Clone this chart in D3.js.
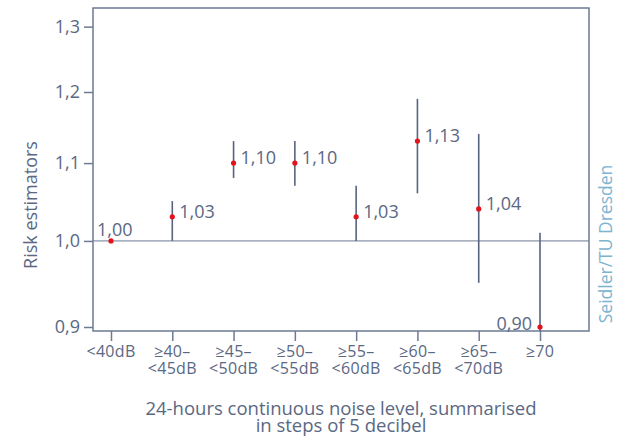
<!DOCTYPE html>
<html lang="en">
<head>
    <meta charset="UTF-8">
    <title>Risk estimators by noise level</title>
    <script src="https://d3js.org/d3.v7.min.js"></script>
    <style>
        body {
            margin: 0;
            background: #fff;
            font-family: "Open Sans", sans-serif;
        }
        .axis path, .axis line {
            stroke: #6c7a94;
        }
        text {
            fill: #5a6883;
        }
    </style>
</head>
<body>
    <svg id="chart" width="617" height="436"></svg>

    <script>
        // Data
        const categoryTop    = ["<40dB", "≥40–", "≥45–", "≥50–", "≥55–", "≥60–", "≥65–", "≥70"];
        const categoryBottom = ["", "<45dB", "<50dB", "<55dB", "<60dB", "<65dB", "<70dB", ""];
        const estimates = [1.00, 1.03, 1.10, 1.10, 1.03, 1.13, 1.04, 0.90];
        const lowerCI   = [null, 1.00, 1.08, 1.07, 1.00, 1.06, 0.95, 0.87];
        const upperCI   = [null, 1.05, 1.13, 1.13, 1.07, 1.19, 1.14, 1.01];
        const yTicks = [0.9, 1.0, 1.1, 1.2, 1.3];

        const plotLeft = 93, plotRight = 589, plotTop = 8, plotBottom = 331;
        const svg = d3.select("#chart");
        const fmt = v => d3.format(".2f")(v).replace(".", ",");

        const keys = categoryTop.map((t, i) => t + categoryBottom[i]);
        const x = d3.scalePoint().domain(keys).range([111, 540]);
        const y = d3.scaleLog().domain([0.8956, 1.33]).range([plotBottom, plotTop]);

        // clip for the error bars
        svg.append("clipPath").attr("id", "plot-clip")
            .append("rect")
            .attr("x", plotLeft).attr("y", plotTop)
            .attr("width", plotRight - plotLeft).attr("height", plotBottom - plotTop);

        // frame
        svg.append("rect")
            .attr("x", plotLeft).attr("y", plotTop)
            .attr("width", plotRight - plotLeft).attr("height", plotBottom - plotTop)
            .attr("fill", "none")
            .attr("stroke", "#6c7a94")
            .attr("stroke-width", 1.5);

        // reference line at 1,0
        svg.append("line")
            .attr("x1", plotLeft).attr("x2", plotRight)
            .attr("y1", y(1)).attr("y2", y(1))
            .attr("stroke", "#6c7a94")
            .attr("stroke-width", 1);

        // y axis
        const yAxis = svg.append("g")
            .attr("class", "axis")
            .attr("transform", `translate(${plotLeft},0)`)
            .call(d3.axisLeft(y)
                .tickValues(yTicks)
                .tickSize(9)
                .tickPadding(4)
                .tickFormat(d => d3.format(".1f")(d).replace(".", ",")));
        yAxis.select(".domain").remove();
        yAxis.selectAll("line").attr("stroke-width", 1.5);
        yAxis.selectAll("text")
            .style("font-family", "'Open Sans', sans-serif")
            .style("font-size", "18px")
            .attr("fill", "#5a6883");

        // x axis
        const xAxis = svg.append("g")
            .attr("class", "axis")
            .attr("transform", `translate(0,${plotBottom})`)
            .call(d3.axisBottom(x).tickSize(10).tickFormat(""));
        xAxis.select(".domain").remove();
        xAxis.selectAll("line").attr("stroke-width", 1.5);

        // x tick labels, two lines
        const xLabels = svg.append("g")
            .attr("text-anchor", "middle")
            .style("font-size", "16px")
            .style("letter-spacing", "0.3px");
        xLabels.selectAll("text.top")
            .data(categoryTop)
            .join("text")
            .attr("class", "top")
            .attr("x", (d, i) => x(keys[i]))
            .attr("y", 357)
            .text(d => d);
        xLabels.selectAll("text.bottom")
            .data(categoryBottom)
            .join("text")
            .attr("class", "bottom")
            .attr("x", (d, i) => x(keys[i]))
            .attr("y", 374)
            .text(d => d);

        // error bars
        svg.append("g")
            .attr("clip-path", "url(#plot-clip)")
            .selectAll("line")
            .data(estimates.map((v, i) => ({ i, lo: lowerCI[i], hi: upperCI[i] }))
                .filter(d => d.lo !== null))
            .join("line")
            .attr("x1", d => x(keys[d.i]))
            .attr("x2", d => x(keys[d.i]))
            .attr("y1", d => y(d.lo))
            .attr("y2", d => y(d.hi))
            .attr("stroke", "#56647e")
            .attr("stroke-width", 1.6);

        // points
        svg.append("g")
            .selectAll("circle")
            .data(estimates)
            .join("circle")
            .attr("cx", (d, i) => x(keys[i]))
            .attr("cy", d => y(d))
            .attr("r", 2.6)
            .attr("fill", "#e3131b");

        // value labels
        const last = estimates.length - 1;
        svg.append("g")
            .selectAll("text")
            .data(estimates)
            .join("text")
            .attr("x", (d, i) => i === 0 ? x(keys[i]) - 14 : i === last ? x(keys[i]) - 8 : x(keys[i]) + 7)
            .attr("y", (d, i) => i === 0 ? y(d) - 5 : i === last ? y(d) + 3 : y(d) - 5)
            .attr("dy", (d, i) => (i === 0 || i === last) ? 0 : "0.35em")
            .attr("text-anchor", (d, i) => i === last ? "end" : "start")
            .style("font-size", "18px")
            .text(d => fmt(d));

        // axis titles
        svg.append("text")
            .attr("transform", "translate(37,205) rotate(-90)")
            .attr("text-anchor", "middle")
            .style("font-size", "18px")
            .text("Risk estimators");

        svg.append("text")
            .attr("x", 341)
            .attr("y", 415)
            .attr("text-anchor", "middle")
            .style("font-size", "18.5px")
            .text("24-hours continuous noise level, summarised");
        svg.append("text")
            .attr("x", 341)
            .attr("y", 432)
            .attr("text-anchor", "middle")
            .style("font-size", "18.5px")
            .text("in steps of 5 decibel");

        // source credit
        svg.append("text")
            .attr("transform", "translate(612,244) rotate(-90)")
            .attr("text-anchor", "middle")
            .style("font-size", "17.5px")
            .style("fill", "#7db4cf")
            .text("Seidler/TU Dresden");
    </script>
</body>
</html>
